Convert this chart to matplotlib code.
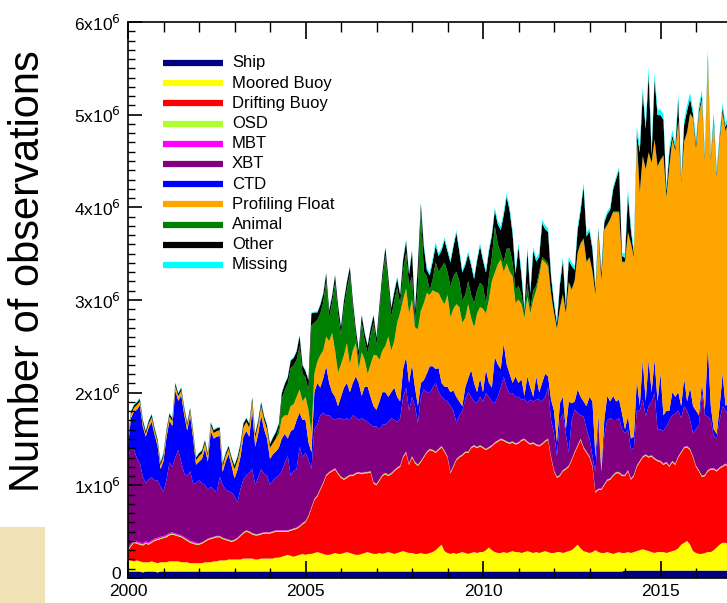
import numpy as np
import matplotlib
matplotlib.use("Agg")
import matplotlib.pyplot as plt
import matplotlib.transforms as mtransforms
from matplotlib.lines import Line2D
from matplotlib.patches import Rectangle
from matplotlib.ticker import MultipleLocator, FixedLocator, FuncFormatter

plt.rcParams["font.family"] = ["Liberation Sans", "DejaVu Sans"]

# monthly counts, millions of observations, Jan 2000 - Dec 2016 (one row per year)
ship = [
    0.07, 0.07, 0.07, 0.07, 0.07, 0.06, 0.07, 0.07, 0.07, 0.07, 0.06, 0.07,
    0.07, 0.07, 0.07, 0.07, 0.07, 0.07, 0.07, 0.07, 0.07, 0.07, 0.07, 0.07,
    0.07, 0.07, 0.07, 0.07, 0.07, 0.07, 0.07, 0.07, 0.07, 0.07, 0.07, 0.07,
    0.07, 0.07, 0.07, 0.07, 0.07, 0.07, 0.07, 0.07, 0.07, 0.07, 0.07, 0.07,
    0.07, 0.07, 0.07, 0.07, 0.07, 0.07, 0.07, 0.07, 0.07, 0.07, 0.07, 0.07,
    0.07, 0.07, 0.07, 0.07, 0.07, 0.07, 0.07, 0.07, 0.07, 0.07, 0.07, 0.07,
    0.07, 0.07, 0.07, 0.07, 0.07, 0.07, 0.07, 0.07, 0.07, 0.07, 0.07, 0.07,
    0.07, 0.07, 0.07, 0.07, 0.07, 0.07, 0.07, 0.07, 0.07, 0.07, 0.07, 0.07,
    0.07, 0.07, 0.07, 0.07, 0.07, 0.07, 0.07, 0.07, 0.07, 0.07, 0.07, 0.07,
    0.07, 0.07, 0.07, 0.07, 0.07, 0.07, 0.07, 0.07, 0.07, 0.07, 0.07, 0.07,
    0.07, 0.07, 0.07, 0.07, 0.07, 0.07, 0.07, 0.07, 0.07, 0.07, 0.07, 0.07,
    0.07, 0.07, 0.07, 0.07, 0.07, 0.07, 0.07, 0.07, 0.07, 0.07, 0.07, 0.07,
    0.07, 0.07, 0.07, 0.07, 0.07, 0.07, 0.07, 0.07, 0.07, 0.07, 0.07, 0.07,
    0.07, 0.07, 0.07, 0.07, 0.07, 0.07, 0.07, 0.07, 0.07, 0.07, 0.07, 0.07,
    0.08, 0.08, 0.08, 0.08, 0.08, 0.08, 0.08, 0.08, 0.08, 0.08, 0.08, 0.08,
    0.08, 0.08, 0.08, 0.08, 0.08, 0.08, 0.08, 0.08, 0.08, 0.08, 0.08, 0.08,
    0.08, 0.08, 0.08, 0.08, 0.08, 0.08, 0.08, 0.08, 0.08, 0.08, 0.08, 0.08,
]
moored_buoy = [
    0.12, 0.12, 0.11, 0.12, 0.11, 0.11, 0.10, 0.10, 0.11, 0.10, 0.10, 0.10,
    0.10, 0.10, 0.11, 0.11, 0.11, 0.11, 0.10, 0.10, 0.10, 0.09, 0.09, 0.09,
    0.09, 0.09, 0.10, 0.10, 0.10, 0.11, 0.11, 0.12, 0.12, 0.12, 0.13, 0.13,
    0.13, 0.13, 0.13, 0.14, 0.14, 0.14, 0.14, 0.13, 0.13, 0.14, 0.14, 0.14,
    0.14, 0.14, 0.15, 0.15, 0.16, 0.17, 0.18, 0.17, 0.16, 0.17, 0.18, 0.19,
    0.18, 0.19, 0.19, 0.20, 0.21, 0.20, 0.19, 0.18, 0.18, 0.19, 0.20, 0.19,
    0.19, 0.20, 0.21, 0.20, 0.19, 0.18, 0.18, 0.19, 0.20, 0.21, 0.20, 0.19,
    0.19, 0.20, 0.19, 0.20, 0.21, 0.20, 0.19, 0.20, 0.21, 0.22, 0.21, 0.20,
    0.20, 0.19, 0.19, 0.20, 0.19, 0.19, 0.20, 0.21, 0.23, 0.26, 0.29, 0.22,
    0.20, 0.19, 0.20, 0.19, 0.20, 0.21, 0.20, 0.19, 0.20, 0.21, 0.20, 0.21,
    0.21, 0.23, 0.26, 0.23, 0.21, 0.20, 0.20, 0.21, 0.20, 0.21, 0.22, 0.21,
    0.21, 0.20, 0.21, 0.22, 0.21, 0.20, 0.21, 0.20, 0.21, 0.22, 0.21, 0.20,
    0.20, 0.21, 0.21, 0.20, 0.21, 0.22, 0.23, 0.26, 0.29, 0.25, 0.22, 0.21,
    0.20, 0.21, 0.23, 0.21, 0.20, 0.20, 0.21, 0.20, 0.19, 0.20, 0.21, 0.20,
    0.19, 0.20, 0.19, 0.20, 0.21, 0.22, 0.23, 0.22, 0.21, 0.20, 0.19, 0.20,
    0.20, 0.20, 0.19, 0.20, 0.21, 0.22, 0.24, 0.28, 0.30, 0.32, 0.28, 0.21,
    0.19, 0.18, 0.18, 0.19, 0.20, 0.20, 0.22, 0.25, 0.28, 0.30, 0.30, 0.29,
]
drifting_buoy = [
    0.11, 0.15, 0.20, 0.18, 0.18, 0.18, 0.20, 0.19, 0.20, 0.23, 0.25, 0.25,
    0.26, 0.27, 0.28, 0.29, 0.28, 0.27, 0.27, 0.25, 0.23, 0.22, 0.21, 0.20,
    0.20, 0.21, 0.22, 0.24, 0.25, 0.25, 0.26, 0.25, 0.23, 0.22, 0.20, 0.19,
    0.20, 0.22, 0.25, 0.27, 0.29, 0.28, 0.26, 0.26, 0.26, 0.26, 0.27, 0.27,
    0.27, 0.28, 0.28, 0.28, 0.27, 0.26, 0.25, 0.27, 0.29, 0.29, 0.30, 0.32,
    0.35, 0.40, 0.49, 0.57, 0.60, 0.68, 0.76, 0.85, 0.88, 0.89, 0.90, 0.86,
    0.82, 0.79, 0.80, 0.83, 0.84, 0.87, 0.88, 0.86, 0.86, 0.85, 0.87, 0.76,
    0.74, 0.78, 0.84, 0.85, 0.82, 0.85, 0.89, 0.91, 0.92, 1.01, 1.07, 0.95,
    1.03, 0.98, 0.95, 0.98, 1.04, 1.09, 1.11, 1.09, 1.05, 1.05, 1.05, 1.07,
    1.03, 0.87, 0.93, 1.01, 1.03, 1.04, 1.08, 1.09, 1.13, 1.14, 1.13, 1.14,
    1.12, 1.08, 1.07, 1.12, 1.17, 1.20, 1.22, 1.20, 1.19, 1.17, 1.17, 1.16,
    1.17, 1.21, 1.21, 1.17, 1.16, 1.18, 1.15, 1.15, 1.16, 1.18, 1.21, 1.03,
    0.88, 0.80, 0.82, 0.88, 0.89, 0.91, 0.97, 1.02, 1.06, 1.17, 1.11, 1.07,
    1.03, 0.92, 0.62, 0.67, 0.68, 0.73, 0.77, 0.79, 0.84, 0.86, 0.85, 0.83,
    0.83, 0.87, 0.79, 0.82, 0.91, 0.95, 0.99, 1.02, 1.01, 1.03, 1.01, 0.98,
    0.97, 0.94, 0.97, 0.92, 0.96, 0.92, 0.98, 0.99, 1.02, 1.01, 1.02, 1.01,
    0.93, 0.89, 0.83, 0.83, 0.87, 0.89, 0.87, 0.82, 0.82, 0.82, 0.84, 0.83,
]
osd = [
    0.010, 0.010, 0.010, 0.010, 0.010, 0.010, 0.010, 0.010, 0.010, 0.010, 0.010, 0.010,
    0.010, 0.012, 0.012, 0.010, 0.010, 0.010, 0.010, 0.010, 0.010, 0.010, 0.010, 0.010,
    0.010, 0.010, 0.010, 0.010, 0.010, 0.010, 0.010, 0.010, 0.010, 0.010, 0.010, 0.010,
    0.010, 0.010, 0.010, 0.010, 0.010, 0.010, 0.010, 0.010, 0.010, 0.010, 0.010, 0.010,
    0.010, 0.010, 0.010, 0.010, 0.010, 0.010, 0.010, 0.010, 0.010, 0.010, 0.010, 0.010,
    0.010, 0.010, 0.010, 0.010, 0.010, 0.010, 0.010, 0.010, 0.010, 0.010, 0.010, 0.010,
    0.010, 0.010, 0.010, 0.010, 0.010, 0.010, 0.010, 0.010, 0.010, 0.010, 0.010, 0.010,
    0.010, 0.010, 0.010, 0.010, 0.010, 0.010, 0.010, 0.010, 0.010, 0.010, 0.010, 0.010,
    0.010, 0.010, 0.010, 0.010, 0.010, 0.010, 0.010, 0.010, 0.010, 0.010, 0.010, 0.010,
    0.010, 0.010, 0.010, 0.010, 0.010, 0.010, 0.010, 0.010, 0.010, 0.010, 0.010, 0.010,
    0.010, 0.010, 0.010, 0.010, 0.010, 0.010, 0.010, 0.010, 0.010, 0.010, 0.010, 0.010,
    0.010, 0.010, 0.010, 0.010, 0.010, 0.010, 0.010, 0.010, 0.010, 0.010, 0.010, 0.010,
    0.010, 0.010, 0.010, 0.010, 0.010, 0.010, 0.010, 0.010, 0.010, 0.010, 0.010, 0.010,
    0.010, 0.010, 0.010, 0.010, 0.010, 0.010, 0.010, 0.010, 0.010, 0.010, 0.010, 0.010,
    0.010, 0.010, 0.010, 0.010, 0.010, 0.010, 0.010, 0.010, 0.010, 0.010, 0.010, 0.010,
    0.010, 0.010, 0.010, 0.010, 0.010, 0.010, 0.010, 0.010, 0.010, 0.010, 0.010, 0.010,
    0.010, 0.010, 0.010, 0.010, 0.010, 0.010, 0.010, 0.010, 0.010, 0.010, 0.010, 0.010,
]
mbt = [
    0.015, 0.015, 0.015, 0.015, 0.015, 0.015, 0.015, 0.015, 0.015, 0.015, 0.015, 0.015,
    0.012, 0.012, 0.012, 0.012, 0.012, 0.012, 0.012, 0.012, 0.012, 0.012, 0.012, 0.012,
    0.005, 0.005, 0.005, 0.005, 0.005, 0.005, 0.005, 0.005, 0.005, 0.005, 0.005, 0.005,
    0.005, 0.005, 0.005, 0.005, 0.005, 0.005, 0.005, 0.005, 0.005, 0.005, 0.005, 0.005,
    0.005, 0.005, 0.005, 0.005, 0.005, 0.005, 0.005, 0.005, 0.005, 0.005, 0.005, 0.005,
    0.005, 0.005, 0.005, 0.005, 0.005, 0.005, 0.005, 0.005, 0.005, 0.005, 0.005, 0.005,
    0.005, 0.005, 0.005, 0.005, 0.005, 0.005, 0.005, 0.005, 0.005, 0.005, 0.005, 0.005,
    0.005, 0.005, 0.005, 0.005, 0.005, 0.005, 0.005, 0.005, 0.005, 0.005, 0.005, 0.005,
    0.005, 0.005, 0.005, 0.005, 0.005, 0.005, 0.005, 0.005, 0.005, 0.005, 0.005, 0.005,
    0.005, 0.005, 0.005, 0.005, 0.005, 0.005, 0.005, 0.005, 0.005, 0.005, 0.005, 0.005,
    0.005, 0.005, 0.005, 0.005, 0.005, 0.005, 0.005, 0.005, 0.005, 0.005, 0.005, 0.005,
    0.005, 0.005, 0.005, 0.005, 0.005, 0.005, 0.005, 0.005, 0.005, 0.005, 0.005, 0.005,
    0.005, 0.005, 0.005, 0.005, 0.005, 0.005, 0.005, 0.005, 0.005, 0.005, 0.005, 0.005,
    0.005, 0.005, 0.005, 0.005, 0.005, 0.005, 0.005, 0.005, 0.005, 0.005, 0.005, 0.005,
    0.005, 0.005, 0.005, 0.005, 0.005, 0.005, 0.005, 0.005, 0.005, 0.005, 0.005, 0.005,
    0.005, 0.005, 0.005, 0.005, 0.005, 0.005, 0.005, 0.005, 0.005, 0.005, 0.005, 0.005,
    0.005, 0.005, 0.005, 0.005, 0.005, 0.005, 0.005, 0.005, 0.005, 0.005, 0.005, 0.005,
]
xbt = [
    0.98, 1.04, 0.98, 0.90, 0.86, 0.72, 0.63, 0.68, 0.68, 0.63, 0.62, 0.54,
    0.48, 0.59, 0.76, 0.71, 0.82, 0.91, 0.79, 0.69, 0.68, 0.75, 0.63, 0.64,
    0.68, 0.64, 0.60, 0.53, 0.55, 0.51, 0.47, 0.64, 0.57, 0.53, 0.52, 0.52,
    0.47, 0.38, 0.49, 0.57, 0.59, 0.63, 0.69, 0.53, 0.61, 0.69, 0.63, 0.61,
    0.51, 0.55, 0.57, 0.59, 0.64, 0.73, 0.80, 0.58, 0.62, 0.63, 0.85, 0.71,
    0.74, 0.60, 0.41, 0.75, 0.76, 0.79, 0.75, 0.64, 0.61, 0.56, 0.52, 0.59,
    0.63, 0.63, 0.63, 0.59, 0.64, 0.60, 0.56, 0.59, 0.56, 0.54, 0.50, 0.60,
    0.62, 0.54, 0.54, 0.52, 0.57, 0.59, 0.54, 0.49, 0.51, 0.64, 0.69, 0.57,
    0.64, 0.60, 0.45, 0.69, 0.72, 0.64, 0.60, 0.67, 0.74, 0.61, 0.53, 0.55,
    0.59, 0.71, 0.59, 0.39, 0.44, 0.47, 0.56, 0.64, 0.54, 0.47, 0.47, 0.52,
    0.49, 0.60, 0.54, 0.47, 0.42, 0.47, 0.55, 0.68, 0.58, 0.53, 0.52, 0.50,
    0.49, 0.43, 0.43, 0.42, 0.47, 0.44, 0.48, 0.49, 0.45, 0.47, 0.55, 0.39,
    0.40, 0.22, 0.59, 0.61, 0.37, 0.14, 0.42, 0.45, 0.35, 0.25, 0.33, 0.24,
    0.19, 0.10, 0.21, 0.69, 0.18, 0.52, 0.64, 0.65, 0.59, 0.56, 0.58, 0.49,
    0.45, 0.44, 0.31, 0.29, 0.59, 0.54, 0.61, 0.41, 0.54, 0.58, 0.70, 0.33,
    0.34, 0.35, 0.38, 0.49, 0.49, 0.54, 0.49, 0.36, 0.44, 0.38, 0.31, 0.25,
    0.39, 0.49, 0.89, 0.64, 0.58, 0.52, 0.35, 0.34, 0.51, 0.64, 0.57, 0.54,
]
ctd = [
    0.12, 0.32, 0.41, 0.52, 0.62, 0.54, 0.50, 0.56, 0.60, 0.49, 0.37, 0.19,
    0.33, 0.46, 0.45, 0.44, 0.72, 0.53, 0.72, 0.63, 0.49, 0.60, 0.49, 0.20,
    0.20, 0.26, 0.39, 0.30, 0.60, 0.55, 0.60, 0.44, 0.14, 0.30, 0.40, 0.29,
    0.19, 0.35, 0.35, 0.46, 0.48, 0.39, 0.63, 0.41, 0.47, 0.58, 0.48, 0.40,
    0.28, 0.28, 0.28, 0.30, 0.35, 0.31, 0.19, 0.48, 0.45, 0.53, 0.37, 0.40,
    0.35, 0.19, 0.18, 0.40, 0.45, 0.30, 0.37, 0.53, 0.35, 0.28, 0.25, 0.13,
    0.23, 0.35, 0.38, 0.30, 0.35, 0.44, 0.40, 0.24, 0.36, 0.38, 0.30, 0.22,
    0.18, 0.30, 0.35, 0.35, 0.27, 0.28, 0.35, 0.27, 0.18, 0.30, 0.33, 0.30,
    0.35, 0.20, 0.18, 0.15, 0.10, 0.20, 0.29, 0.23, 0.15, 0.26, 0.15, 0.14,
    0.16, 0.15, 0.22, 0.28, 0.15, 0.05, 0.13, 0.15, 0.29, 0.20, 0.12, 0.20,
    0.10, 0.25, 0.15, 0.15, 0.50, 0.35, 0.20, 0.36, 0.25, 0.21, 0.11, 0.22,
    0.15, 0.22, 0.03, 0.28, 0.13, 0.05, 0.25, 0.08, 0.20, 0.25, 0.12, 0.22,
    0.24, 0.15, 0.18, 0.18, 0.05, 0.55, 0.18, 0.09, 0.25, 0.20, 0.16, 0.25,
    0.45, 0.59, 0.16, 0.10, 0.01, 0.17, 0.26, 0.18, 0.26, 0.20, 0.20, 0.17,
    0.04, 0.14, 0.12, 0.12, 0.33, 0.05, 0.43, 0.16, 0.50, 0.10, 0.36, 0.30,
    0.60, 0.17, 0.17, 0.10, 0.25, 0.18, 0.20, 0.13, 0.30, 0.10, 0.35, 0.29,
    0.20, 0.10, 0.11, 0.05, 0.76, 0.15, 0.07, 0.05, 0.15, 0.35, 0.05, 0.15,
]
profiling_float = [
    0.03, 0.04, 0.04, 0.05, 0.04, 0.04, 0.03, 0.04, 0.05, 0.04, 0.04, 0.04,
    0.05, 0.05, 0.05, 0.05, 0.05, 0.05, 0.05, 0.05, 0.05, 0.05, 0.05, 0.05,
    0.06, 0.06, 0.06, 0.06, 0.06, 0.06, 0.06, 0.06, 0.06, 0.06, 0.06, 0.06,
    0.10, 0.10, 0.10, 0.10, 0.10, 0.10, 0.10, 0.10, 0.10, 0.10, 0.10, 0.10,
    0.12, 0.12, 0.14, 0.15, 0.22, 0.20, 0.25, 0.27, 0.27, 0.25, 0.25, 0.20,
    0.25, 0.35, 0.21, 0.20, 0.23, 0.35, 0.30, 0.32, 0.45, 0.64, 0.50, 0.36,
    0.35, 0.35, 0.43, 0.30, 0.35, 0.36, 0.15, 0.47, 0.29, 0.14, 0.35, 0.55,
    0.59, 0.45, 0.45, 0.50, 0.65, 0.45, 0.50, 0.80, 0.96, 0.75, 0.74, 0.75,
    0.70, 0.65, 0.83, 0.78, 0.83, 0.87, 0.77, 0.82, 0.83, 0.81, 0.90, 0.89,
    0.99, 0.81, 0.88, 1.00, 1.02, 0.90, 0.75, 0.80, 0.56, 0.60, 0.85, 0.77,
    0.90, 0.61, 0.90, 1.15, 0.91, 1.08, 1.18, 0.77, 1.09, 1.10, 1.15, 0.79,
    0.90, 0.81, 0.84, 0.86, 0.80, 1.05, 0.93, 1.25, 1.33, 1.20, 1.19, 1.13,
    1.05, 1.22, 1.02, 1.10, 1.25, 1.28, 1.22, 1.30, 1.47, 1.65, 1.75, 1.55,
    1.50, 1.40, 1.75, 1.95, 2.05, 2.05, 1.84, 1.96, 1.98, 2.04, 2.02, 1.63,
    1.80, 1.98, 2.10, 1.93, 2.59, 2.30, 2.19, 2.50, 2.23, 2.47, 2.37, 2.53,
    2.30, 2.80, 2.30, 2.63, 2.72, 2.65, 2.92, 2.40, 2.55, 2.90, 2.95, 3.10,
    2.82, 3.25, 3.05, 2.70, 3.09, 2.65, 3.32, 2.77, 2.86, 2.81, 2.96, 3.01,
]
animal = [
    0.00, 0.00, 0.00, 0.00, 0.00, 0.00, 0.00, 0.00, 0.00, 0.00, 0.00, 0.00,
    0.00, 0.00, 0.00, 0.00, 0.00, 0.00, 0.00, 0.00, 0.00, 0.00, 0.00, 0.00,
    0.00, 0.00, 0.00, 0.00, 0.00, 0.00, 0.00, 0.00, 0.00, 0.00, 0.00, 0.00,
    0.00, 0.00, 0.00, 0.00, 0.00, 0.00, 0.00, 0.00, 0.00, 0.00, 0.00, 0.00,
    0.00, 0.00, 0.00, 0.06, 0.21, 0.27, 0.34, 0.41, 0.42, 0.40, 0.47, 0.30,
    0.21, 0.21, 1.16, 0.55, 0.45, 0.45, 0.52, 0.60, 0.25, 0.33, 0.73, 0.64,
    0.32, 0.51, 0.58, 0.97, 0.46, 0.08, 0.12, 0.32, 0.21, 0.22, 0.31, 0.35,
    0.11, 0.51, 0.76, 0.98, 0.55, 0.37, 0.43, 0.38, 0.09, 0.31, 0.39, 0.30,
    0.25, 0.05, 0.47, 1.07, 0.34, 0.18, 0.05, 0.12, 0.32, 0.23, 0.35, 0.45,
    0.25, 0.33, 0.35, 0.35, 0.28, 0.24, 0.25, 0.25, 0.25, 0.26, 0.25, 0.26,
    0.25, 0.10, 0.25, 0.25, 0.50, 0.22, 0.07, 0.10, 0.16, 0.25, 0.15, 0.14,
    0.15, 0.10, 0.05, 0.15, 0.05, 0.10, 0.05, 0.05, 0.03, 0.03, 0.03, 0.02,
    0.01, 0.01, 0.01, 0.01, 0.01, 0.01, 0.01, 0.01, 0.01, 0.01, 0.01, 0.01,
    0.01, 0.01, 0.01, 0.01, 0.01, 0.01, 0.01, 0.01, 0.01, 0.01, 0.01, 0.01,
    0.01, 0.01, 0.01, 0.01, 0.01, 0.01, 0.01, 0.01, 0.01, 0.01, 0.01, 0.01,
    0.01, 0.01, 0.01, 0.01, 0.01, 0.01, 0.01, 0.01, 0.01, 0.01, 0.01, 0.01,
    0.01, 0.01, 0.01, 0.01, 0.01, 0.01, 0.01, 0.01, 0.01, 0.01, 0.01, 0.01,
]
other = [
    0.03, 0.03, 0.03, 0.03, 0.03, 0.03, 0.03, 0.03, 0.03, 0.03, 0.03, 0.03,
    0.03, 0.03, 0.03, 0.03, 0.03, 0.03, 0.03, 0.03, 0.03, 0.03, 0.03, 0.03,
    0.03, 0.03, 0.03, 0.03, 0.03, 0.03, 0.03, 0.03, 0.03, 0.03, 0.03, 0.03,
    0.04, 0.04, 0.04, 0.04, 0.04, 0.04, 0.04, 0.04, 0.04, 0.04, 0.04, 0.04,
    0.04, 0.06, 0.07, 0.05, 0.06, 0.07, 0.07, 0.08, 0.08, 0.09, 0.11, 0.09,
    0.07, 0.11, 0.13, 0.11, 0.08, 0.09, 0.09, 0.08, 0.08, 0.07, 0.08, 0.09,
    0.08, 0.08, 0.08, 0.08, 0.08, 0.08, 0.08, 0.08, 0.08, 0.08, 0.08, 0.08,
    0.08, 0.08, 0.08, 0.08, 0.09, 0.09, 0.10, 0.10, 0.10, 0.12, 0.12, 0.12,
    0.27, 0.12, 0.23, 0.08, 0.27, 0.07, 0.16, 0.19, 0.18, 0.17, 0.18, 0.24,
    0.22, 0.26, 0.32, 0.42, 0.32, 0.30, 0.32, 0.29, 0.32, 0.26, 0.32, 0.40,
    0.27, 0.34, 0.27, 0.24, 0.17, 0.21, 0.25, 0.51, 0.56, 0.41, 0.31, 0.18,
    0.42, 0.21, 0.03, 0.35, 0.17, 0.43, 0.26, 0.16, 0.36, 0.33, 0.34, 0.18,
    0.10, 0.05, 0.25, 0.36, 0.06, 0.23, 0.25, 0.11, 0.24, 0.35, 0.56, 0.27,
    0.28, 0.23, 0.05, 0.05, 0.08, 0.07, 0.11, 0.10, 0.24, 0.35, 0.45, 0.06,
    0.04, 0.40, 0.14, 0.03, 0.06, 0.43, 0.68, 0.43, 0.84, 0.08, 0.65, 0.55,
    0.48, 0.38, 0.06, 0.15, 0.04, 0.03, 0.23, 0.02, 0.18, 0.23, 0.16, 0.04,
    0.05, 0.04, 0.05, 0.03, 0.04, 0.03, 0.04, 0.03, 0.04, 0.05, 0.04, 0.04,
]
missing = [
    0.01, 0.01, 0.01, 0.01, 0.01, 0.01, 0.01, 0.01, 0.01, 0.01, 0.01, 0.01,
    0.01, 0.01, 0.01, 0.01, 0.01, 0.01, 0.01, 0.01, 0.01, 0.01, 0.01, 0.01,
    0.01, 0.01, 0.01, 0.01, 0.01, 0.01, 0.01, 0.01, 0.01, 0.01, 0.01, 0.01,
    0.01, 0.01, 0.01, 0.01, 0.01, 0.01, 0.01, 0.01, 0.01, 0.01, 0.01, 0.01,
    0.01, 0.01, 0.01, 0.01, 0.01, 0.01, 0.01, 0.01, 0.01, 0.01, 0.01, 0.01,
    0.01, 0.01, 0.01, 0.01, 0.01, 0.01, 0.01, 0.01, 0.01, 0.01, 0.01, 0.01,
    0.01, 0.01, 0.01, 0.01, 0.01, 0.01, 0.01, 0.01, 0.01, 0.01, 0.01, 0.01,
    0.01, 0.01, 0.01, 0.01, 0.01, 0.01, 0.02, 0.02, 0.02, 0.02, 0.02, 0.02,
    0.02, 0.02, 0.02, 0.03, 0.03, 0.03, 0.03, 0.04, 0.04, 0.03, 0.03, 0.03,
    0.03, 0.03, 0.03, 0.03, 0.03, 0.03, 0.03, 0.03, 0.03, 0.03, 0.03, 0.03,
    0.03, 0.03, 0.03, 0.03, 0.03, 0.04, 0.04, 0.04, 0.04, 0.04, 0.04, 0.04,
    0.04, 0.04, 0.04, 0.04, 0.04, 0.04, 0.04, 0.04, 0.04, 0.04, 0.04, 0.04,
    0.04, 0.04, 0.04, 0.04, 0.04, 0.04, 0.04, 0.04, 0.04, 0.04, 0.04, 0.04,
    0.03, 0.03, 0.03, 0.03, 0.03, 0.03, 0.03, 0.03, 0.03, 0.03, 0.03, 0.03,
    0.05, 0.06, 0.05, 0.05, 0.08, 0.06, 0.07, 0.06, 0.08, 0.06, 0.07, 0.06,
    0.06, 0.06, 0.05, 0.06, 0.06, 0.05, 0.07, 0.05, 0.05, 0.06, 0.06, 0.05,
    0.04, 0.05, 0.05, 0.04, 0.06, 0.04, 0.05, 0.04, 0.04, 0.05, 0.04, 0.04,
]

labels = ["Ship", "Moored Buoy", "Drifting Buoy", "OSD", "MBT", "XBT", "CTD",
          "Profiling Float", "Animal", "Other", "Missing"]
colors = ["#000080", "#ffff00", "#ff0000", "#adff2f", "#ff00ff", "#800080",
          "#0000ff", "#ffa500", "#008000", "#000000", "#00ffff"]
series = [ship, moored_buoy, drifting_buoy, osd, mbt, xbt, ctd,
          profiling_float, animal, other, missing]

W, H = 727, 603
fig = plt.figure(figsize=(W / 100, H / 100), dpi=100)

# plot area runs off the right edge of the page
x0, x1, y0, y1 = 128, 782, 578, 22
ax = fig.add_axes([x0 / W, 1 - y0 / H, (x1 - x0) / W, (y0 - y1) / H])

months = 2000 + np.arange(len(ship)) / 12.0
ax.stackplot(months, *series, colors=colors, linewidth=0, antialiased=True)

ax.set_xlim(2000, 2000 + (x1 - x0) / 35.5)
ax.set_ylim(0, 6)

ax.xaxis.set_major_locator(FixedLocator([2000, 2005, 2010, 2015]))
ax.xaxis.set_minor_locator(MultipleLocator(1))
ax.yaxis.set_major_locator(MultipleLocator(1))
ax.yaxis.set_minor_locator(MultipleLocator(0.1))
ax.yaxis.set_major_formatter(
    FuncFormatter(lambda v, pos: "0" if v == 0 else f"{int(round(v))}x10$^6$"))
ax.tick_params(axis="both", which="both", direction="in", colors="black",
               labelsize=12.5)
ax.tick_params(axis="x", which="both", top=True, bottom=True)
ax.tick_params(axis="x", which="major", length=12, width=1.2, pad=4)
ax.tick_params(axis="x", which="minor", length=7, width=1)
ax.tick_params(axis="y", which="major", length=10, width=1.2, pad=5)
ax.tick_params(axis="y", which="minor", length=5, width=1)
ax.tick_params(axis="y", which="both", right=False)
for side in ["left", "bottom", "top"]:
    ax.spines[side].set_linewidth(1.2)
ax.spines["right"].set_visible(False)

# lift the "0" label a little so it clears the first year label
fig.canvas.draw()
zero_label = ax.get_yticklabels()[0]
for lab in ax.get_yticklabels():
    if lab.get_text() == "0":
        zero_label = lab
zero_label.set_transform(zero_label.get_transform()
                         + mtransforms.ScaledTranslation(0, 5 / 100, fig.dpi_scale_trans))

fig.text(0.038, 0.55, "Number of observations", rotation=90,
         ha="center", va="center", fontsize=30)

fig.add_artist(Rectangle((0, 0), 45 / W, (H - 527) / H, transform=fig.transFigure,
                         facecolor="#f0e2b5", edgecolor="none"))

# legend drawn as short thick lines with labels
for i, (lab, col) in enumerate(zip(labels, colors)):
    yy = 1 - (63 + 20.2 * i) / H
    fig.add_artist(Line2D([163 / W, 223 / W], [yy, yy], transform=fig.transFigure,
                          color=col, linewidth=4.5, solid_capstyle="butt"))
    fig.text(232 / W, yy, lab, ha="left", va="center", fontsize=12,
             family=["Liberation Sans Narrow", "Liberation Sans", "DejaVu Sans"])

fig.savefig("out.png", dpi=100)
